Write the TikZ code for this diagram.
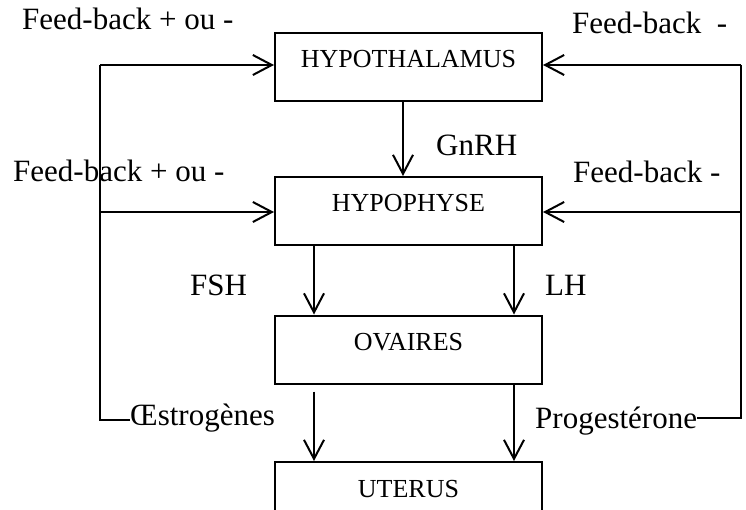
\documentclass[tikz,border=0pt]{standalone}
\usepackage{fontspec}
\setmainfont{Liberation Serif}
\usetikzlibrary{arrows.meta}

\tikzset{
  organ/.style={draw, line width=2pt, minimum width=267pt, inner sep=0pt,
    text height=35pt, text depth=33pt, font=\fontsize{26}{30}\selectfont},
  hormone/.style={anchor=base west, inner sep=0pt, font=\fontsize{31}{36}\selectfont},
  flow/.style={line width=2pt, -{Straight Barb[length=19pt, width=20pt, line width=2pt]}},
  loopline/.style={line width=2pt},
}

\begin{document}
\begin{tikzpicture}[x=1pt, y=-1pt]
\useasboundingbox (0,0) rectangle (746,510);

% boxes
\node[organ] (hth) at (408.5,67) {HYPOTHALAMUS};
\node[organ] (hph) at (408.5,211) {HYPOPHYSE};
\node[organ] (ova) at (408.5,349.5) {OVAIRES};
\node[organ] (ute) at (408.5,496) {UTERUS};

% labels
\node[hormone] (fbtl) at (22,30) {Feed-back + ou -};
\node[hormone] (fbtr) at (572,34) {Feed-back\ \ -};
\node[hormone] (fbml) at (13,182) {Feed-back + ou -};
\node[hormone] (fbmr) at (573,183) {Feed-back -};
\node[hormone] (gnrh) at (436,156) {GnRH};
\node[hormone] (fsh) at (190,295) {FSH};
\node[hormone] (lh) at (545,295) {LH};
\node[hormone] (est) at (130,425) {Œstrogènes};
\node[hormone] (pro) at (535,428) {Progestérone};

% feedback corners
\coordinate (lt) at (100,65);
\coordinate (lm) at (100,212);
\coordinate (lb) at (100,420);
\coordinate (rt) at (741,65);
\coordinate (rm) at (741,212);
\coordinate (rb) at (741,418);

% feedback loops
\draw[loopline] (lt) -- (lb) -- (lb -| est.west);
\draw[loopline] (rt) -- (rb) -- (rb -| pro.east);
\draw[flow] (lt) -- (lt -| hth.west);
\draw[flow] (lm) -- (lm -| hph.west);
\draw[flow] (rt) -- (rt -| hth.east);
\draw[flow] (rm) -- (rm -| hph.east);

% hormone flow
\draw[flow] ([xshift=-5.5pt]hth.south) -- ([xshift=-5.5pt]hph.north);
\draw[flow] ([xshift=40pt]hph.south west) -- ([xshift=40pt]ova.north west);
\draw[flow] ([xshift=-29pt]hph.south east) -- ([xshift=-29pt]ova.north east);
\draw[flow, shorten <=7pt] ([xshift=40pt]ova.south west) -- ([xshift=40pt]ute.north west);
\draw[flow] ([xshift=-29pt]ova.south east) -- ([xshift=-29pt]ute.north east);

\end{tikzpicture}
\end{document}
